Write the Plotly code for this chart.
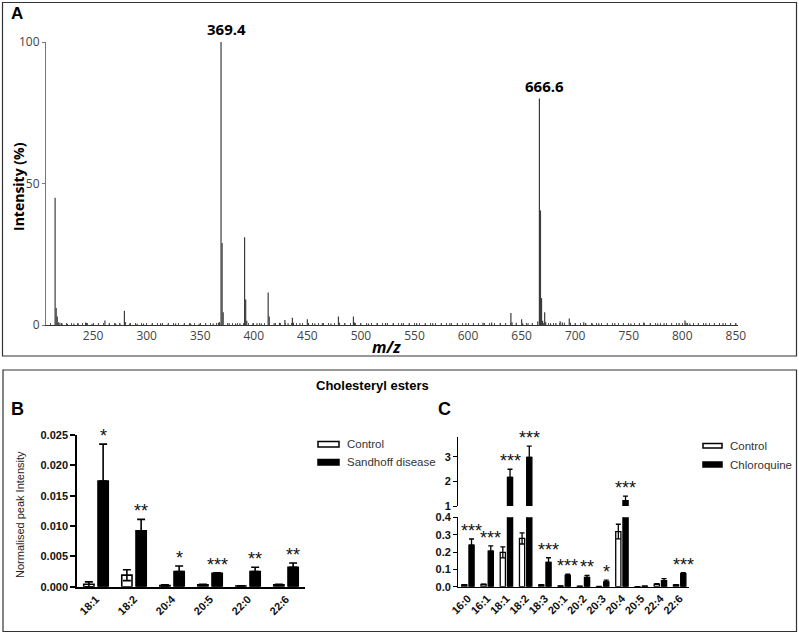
import plotly.graph_objects as go

W, H = 799, 633


def px(x):
    return x / W


def py(y):
    return 1 - y / H


# ---------------- Panel A: mass spectrum ----------------
peak_mz = [214.5, 215.5, 216.5, 217.5, 219, 221, 226, 232, 236, 243, 244, 249, 255, 261, 265,
           271, 275, 279.2, 280.2, 284, 291, 297, 305, 313, 320, 327, 335, 341, 349, 355, 362,
           367, 368, 369.4, 370.4, 371.4, 377, 383, 387, 391.4, 392.4, 393.4, 399, 403, 407,
           413.4, 414.4, 419, 424, 429, 432, 436, 437, 443, 450, 451, 457, 464, 472, 479, 480,
           485, 493, 494, 500, 507, 515, 523, 530, 538, 545, 552, 560, 567, 575, 583, 590, 598,
           605, 614, 622, 630, 635, 640, 641, 645, 650, 651, 656, 660, 665, 666.6, 667.6, 668.6,
           669.6, 671.5, 672.5, 677, 682, 686, 688, 690, 694.5, 695.5, 700, 708, 710, 716, 722,
           730, 737, 745, 752, 760, 764, 770, 777, 783, 790, 797, 802.5, 803.5, 807, 815, 822,
           830, 838, 845, 850]
peak_int = [45, 6, 3, 1, 0.8, 0.5, 0.4, 0.5, 0.6, 0.9, 0.7, 0.4, 0.5, 1.6, 0.5,
            0.5, 0.6, 5, 1, 0.5, 0.4, 0.5, 0.4, 0.6, 0.4, 0.5, 0.4, 0.5, 0.4, 0.5, 0.5,
            0.8, 1, 100, 29, 4.5, 0.6, 0.5, 0.6, 31, 9, 1.5, 0.5, 0.6, 0.5,
            11.5, 3, 0.6, 0.8, 1.8, 0.6, 2.6, 0.8, 0.6, 2, 0.7, 0.5, 0.6, 0.5, 3, 0.8,
            0.6, 3, 0.9, 0.5, 0.5, 0.6, 0.7, 0.5, 0.6, 0.5, 0.6, 0.5, 0.6, 0.5, 0.6, 0.5, 0.6,
            0.5, 0.8, 0.9, 0.6, 0.7, 4.2, 1, 0.8, 2, 0.6, 0.6, 0.7, 1.2, 80, 40.5, 9.5,
            1.5, 4.5, 1, 0.6, 0.7, 1.3, 0.9, 0.8, 2.3, 0.8, 0.6, 1, 0.5, 0.5, 0.6,
            0.5, 0.6, 0.5, 0.5, 0.5, 0.9, 0.5, 0.5, 0.6, 0.6, 0.7, 1.6, 0.8, 0.5, 0.5, 0.6,
            0.5, 0.6, 0.5, 0.6]
label_text = ["369.4", "666.6"]
label_mz = [369.4, 666.6]
label_int = [100, 80]
a_ticks = [250, 300, 350, 400, 450, 500, 550, 600, 650, 700, 750, 800, 850]

# ---------------- Panel B: Sandhoff ----------------
b_cats = ["18:1", "18:2", "20:4", "20:5", "22:0", "22:6"]
b_ctrl = [0.0004, 0.0019, 0.0002, 0.0003, 0.0001, 0.0003]
b_ctrl_err = [0.0004, 0.0009, 0.0001, 0.0001, 0.00005, 0.0001]
b_sd = [0.0174, 0.0092, 0.0025, 0.0022, 0.0025, 0.0032]
b_sd_err = [0.0061, 0.0019, 0.0009, 0.0001, 0.0007, 0.0007]
b_sig = ["*", "**", "*", "***", "**", "**"]

# ---------------- Panel C: Chloroquine ----------------
c_cats = ["16:0", "16:1", "18:1", "18:2", "18:3", "20:1", "20:2", "20:3", "20:4", "20:5", "22:4", "22:6"]
c_ctrl = [0.01, 0.013, 0.198, 0.278, 0.01, 0.003, 0.002, 0.001, 0.318, 0.001, 0.015, 0.01]
c_ctrl_err = [0.002, 0.002, 0.032, 0.032, 0.002, 0.001, 0.001, 0.001, 0.042, 0.0, 0.003, 0.002]
c_cq = [0.24, 0.205, 2.16, 2.97, 0.14, 0.065, 0.054, 0.027, 1.22, 0.003, 0.035, 0.075]
c_cq_err = [0.035, 0.03, 0.33, 0.46, 0.027, 0.008, 0.011, 0.011, 0.18, 0.0, 0.011, 0.006]
c_sig = ["***", "***", "***", "***", "***", "***", "**", "*", "***", "", "", "***"]
c_break_low = 0.4

SANS = "Liberation Sans, Arial, sans-serif"
OPEN = "Open Sans, Noto Sans, sans-serif"
BARGAP = 0.25
BARGROUPGAP = 0.28

fig = go.Figure()

# spectrum sticks
sx, sy = [], []
for m, h in zip(peak_mz, peak_int):
    sx += [m, m, None]
    sy += [0, h, None]
fig.add_trace(go.Scatter(x=sx, y=sy, mode="lines", line=dict(color="#3c3c3c", width=1.2),
                         xaxis="x", yaxis="y", showlegend=False, hoverinfo="skip"))


def add_pair(cats, ctrl, ctrl_err, trt, trt_err, xa, ya, cap, lw):
    fig.add_trace(go.Bar(x=cats, y=ctrl, xaxis=xa, yaxis=ya, showlegend=False,
                         marker=dict(color="white", line=dict(color="black", width=lw)),
                         error_y=dict(type="data", array=ctrl_err, color="black", thickness=lw, width=cap)))
    fig.add_trace(go.Bar(x=cats, y=trt, xaxis=xa, yaxis=ya, showlegend=False,
                         marker=dict(color="black", line=dict(color="black", width=lw)),
                         error_y=dict(type="data", array=trt_err, arrayminus=[0] * len(trt_err),
                                      color="black", thickness=lw, width=cap)))


add_pair(b_cats, b_ctrl, b_ctrl_err, b_sd, b_sd_err, "x2", "y2", 4, 1.6)
add_pair(c_cats, c_ctrl, c_ctrl_err, c_cq, c_cq_err, "x3", "y3", 2.5, 1.3)
add_pair(c_cats, c_ctrl, c_ctrl_err, c_cq, c_cq_err, "x4", "y4", 2.5, 1.3)

ann = []


def ptext(x, y, text, size, family=SANS, color="black", angle=0, xanchor="center"):
    ann.append(dict(x=px(x), y=py(y), xref="paper", yref="paper", text=text, showarrow=False,
                    xanchor=xanchor, yanchor="middle", textangle=angle,
                    font=dict(family=family, size=size, color=color)))


# Panel A annotations
for t, m, h in zip(label_text, label_mz, label_int):
    ann.append(dict(x=m, y=h, xref="x", yref="y", text=f"<b>{t}</b>", showarrow=False,
                    xanchor="center", yanchor="bottom", xshift=5, yshift=1,
                    font=dict(family=OPEN, size=15, color="black")))
ptext(17, 14, "<b>A</b>", 17)
ptext(18, 187, "<b>Intensity (%)</b>", 14, family=OPEN, angle=-90)
ptext(386, 347, "<b><i>m/z</i></b>", 16, family=OPEN)

# Panel B/C titles
ptext(372, 385, "<b>Cholesteryl esters</b>", 13)
ptext(17, 409, "<b>B</b>", 18)
ptext(444, 409, "<b>C</b>", 18)
ptext(20, 515, "Normalised peak Intensity", 11, color="#222", angle=-90)

# significance stars: centred on the treated bar of each group
off = (1 - BARGAP) / 4
for i, (v, e, s) in enumerate(zip(b_sd, b_sd_err, b_sig)):
    if s:
        ann.append(dict(x=i + off, y=v + e, xref="x2", yref="y2", text=s, showarrow=False,
                        xanchor="center", yanchor="bottom", yshift=-4,
                        font=dict(family=SANS, size=18, color="#111")))
for i, (v, e, s) in enumerate(zip(c_cq, c_cq_err, c_sig)):
    if s:
        top = v + e
        ya = "y4" if top > c_break_low else "y3"
        xa = "x4" if top > c_break_low else "x3"
        ann.append(dict(x=i + off, y=top, xref=xa, yref=ya, text=s, showarrow=False,
                        xanchor="center", yanchor="bottom", yshift=-4,
                        font=dict(family=SANS, size=18, color="#111")))

# legends (drawn boxes + labels)
shapes = []


def legend(x0, x1, rows, labels):
    for (ytop, ybot), lab, fill in zip(rows, labels, ["white", "black"]):
        shapes.append(dict(type="rect", xref="paper", yref="paper", x0=px(x0), x1=px(x1),
                           y0=py(ybot), y1=py(ytop), fillcolor=fill, line=dict(color="black", width=1.5)))
        ptext(x1 + 6, (ytop + ybot) / 2, lab, 11.5, color="#333", xanchor="left")


legend(318, 339, [(441.5, 447), (459.5, 465)], ["Control", "Sandhoff disease"])
legend(703, 722, [(443.5, 448), (462, 467)], ["Control", "Chloroquine"])

# panel frames
shapes.append(dict(type="rect", xref="paper", yref="paper", x0=px(2.5), x1=px(796.5), y0=py(356), y1=py(2.5),
                   line=dict(color="#333", width=1.2)))
shapes.append(dict(type="rect", xref="paper", yref="paper", x0=px(3), x1=px(796.5), y0=py(631.5), y1=py(370),
                   line=dict(color="#333", width=1.2)))

tickY = dict(family=SANS, size=11, color="#111", weight="bold")
tickX = dict(family=SANS, size=11, color="#111")
common = dict(showgrid=False, zeroline=False, automargin=False)

fig.update_layout(
    template="none",
    width=W, height=H, autosize=False, margin=dict(l=0, r=0, t=0, b=0, pad=0),
    paper_bgcolor="white", plot_bgcolor="white", showlegend=False,
    barmode="group", bargap=BARGAP, bargroupgap=BARGROUPGAP,
    annotations=ann, shapes=shapes,
    xaxis=dict(domain=[px(46), px(738)], range=[206, 852], anchor="y", **common,
               showline=True, linecolor="#333", linewidth=1, tickvals=a_ticks, ticks="", ticklen=0,
               tickfont=dict(family=OPEN, size=12, color="#444"),
               minor=dict(ticks="inside", ticklen=2, dtick=5, tick0=0, tickcolor="#555", showgrid=False)),
    yaxis=dict(domain=[py(325), py(42)], range=[0, 100], anchor="x", **common,
               showline=True, linecolor="#777", linewidth=1, tickvals=[0, 50, 100], ticks="outside",
               ticklen=3, tickcolor="#777", tickfont=dict(family=OPEN, size=12, color="#444")),
    xaxis2=dict(domain=[px(77), px(305)], anchor="y2", type="category", range=[-0.5, 5.5], **common,
                showline=True, linecolor="black", linewidth=1.6, tickmode="array", tickvals=b_cats,
                ticktext=[f"<b>{c}</b>" for c in b_cats], ticks="", tickangle=-45, tickfont=tickX),
    yaxis2=dict(domain=[py(586.7), py(435)], anchor="x2", range=[0, 0.025], **common,
                showline=True, linecolor="black", linewidth=1.6, tickvals=[0, 0.005, 0.01, 0.015, 0.02, 0.025],
                tickformat=".3f", ticks="outside", ticklen=5, tickwidth=1.6, tickcolor="black", tickfont=tickY),
    xaxis3=dict(domain=[px(458.3), px(689.3)], anchor="y3", type="category", range=[-0.5, 11.5], **common,
                showline=True, linecolor="black", linewidth=1.4, tickmode="array", tickvals=c_cats,
                ticktext=[f"<b>{c}</b>" for c in c_cats], ticks="", tickangle=-45, tickfont=tickX),
    yaxis3=dict(domain=[py(586.7), py(517.3)], anchor="x3", range=[0, c_break_low], **common,
                showline=True, linecolor="black", linewidth=1.4,
                tickvals=[0, 0.1, 0.2, 0.3, 0.4], tickformat=".1f", ticks="outside", ticklen=4,
                tickwidth=1.4, tickcolor="black", tickfont=tickY),
    xaxis4=dict(domain=[px(458.3), px(689.3)], anchor="y4", type="category", range=[-0.5, 11.5],
                matches="x3", visible=False, **common),
    yaxis4=dict(domain=[py(506), py(436.7)], anchor="x4", range=[1, 3.81], **common,
                showline=True, linecolor="black", linewidth=1.4, tickvals=[1, 2, 3], ticks="outside",
                ticklen=4, tickwidth=1.4, tickcolor="black", tickfont=tickY),
)

fig.write_html("out.html", config={"displayModeBar": False},
               post_script="document.body.style.margin='0px';")
